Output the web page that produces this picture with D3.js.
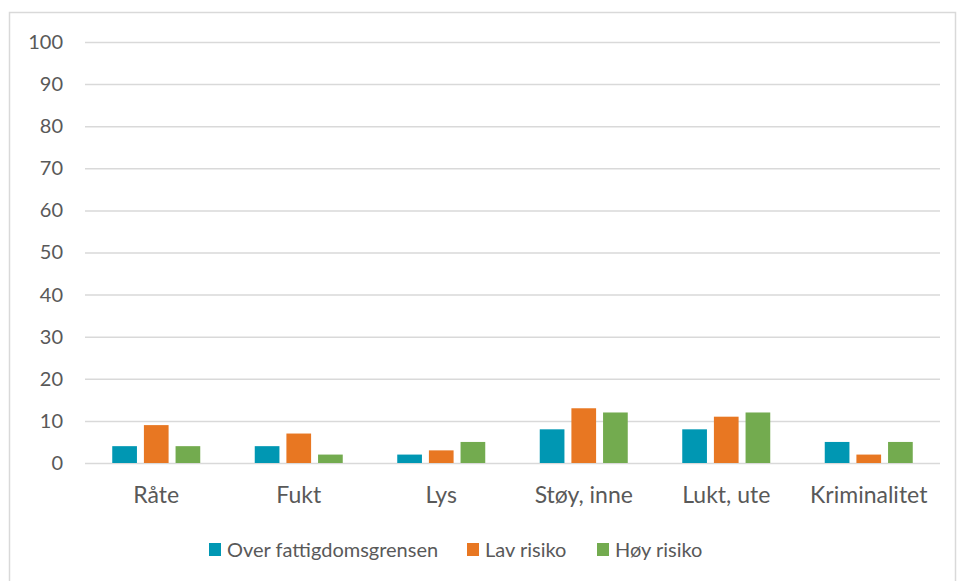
<!DOCTYPE html>
<html>
<head>
<meta charset="utf-8">
<script src="https://cdn.jsdelivr.net/npm/d3@7"></script>
<style>
  body { margin: 0; background: #fff; }
  #chart { width: 957px; height: 581px; }
  text { font-family: Lato, "Noto Sans", sans-serif; fill: #595959; }
</style>
</head>
<body>
<div id="chart"></div>
<script>
// data
const categories = ["Råte", "Fukt", "Lys", "Støy, inne", "Lukt, ute", "Kriminalitet"];
const seriesNames = ["Over fattigdomsgrensen", "Lav risiko", "Høy risiko"];
const overFattigdom = [4, 4, 2, 8, 8, 5];
const lavRisiko = [9, 7, 3, 13, 11, 2];
const hoyRisiko = [4, 2, 5, 12, 12, 5];
const colors = ["#0097b3", "#e87722", "#73ab4f"];
const yTicks = [0, 10, 20, 30, 40, 50, 60, 70, 80, 90, 100];

const seriesValues = [overFattigdom, lavRisiko, hoyRisiko];

let W = 957, H = 581;
let margin = {top: 42, right: 17, bottom: 118, left: 85};
let width = W - margin.left - margin.right;
let height = H - margin.top - margin.bottom;

let root = d3.select("#chart").append("svg")
    .attr("width", W)
    .attr("height", H);

// chart border
root.append("rect")
    .attr("x", 9.5).attr("y", 12.5)
    .attr("width", 946).attr("height", 580)
    .attr("fill", "none")
    .attr("stroke", "#d9d9d9")
    .attr("stroke-width", 1.5);

let svg = root.append("g")
    .attr("transform", "translate(" + margin.left + "," + margin.top + ")");

let y = d3.scaleLinear().domain([0, 100]).range([height, 0]);
let x0 = d3.scaleBand().domain(categories).range([0, width]).padding(0);
let x1 = d3.scaleBand().domain(seriesNames).range([-44, 44]).paddingInner(0.22);

// gridlines + y labels
let yAxis = d3.axisLeft(y).tickValues(yTicks).tickSize(-width).tickPadding(22);
svg.append("g")
    .attr("class", "y-axis")
    .call(yAxis)
    .call(g => g.select(".domain").remove())
    .call(g => g.selectAll(".tick line").attr("stroke", "#d9d9d9").attr("stroke-width", 1.5))
    .call(g => g.selectAll(".tick text").attr("font-size", 20).style("fill", "#595959")
        .attr("font-family", "Lato, 'Noto Sans', sans-serif"));

// bars
let groups = svg.selectAll(".cat").data(categories).enter().append("g")
    .attr("class", "cat")
    .attr("transform", d => "translate(" + (x0(d) + x0.bandwidth() / 2) + ",0)");

groups.selectAll("rect")
    .data((c, i) => seriesNames.map((s, j) => ({series: s, value: seriesValues[j][i], color: colors[j]})))
    .enter().append("rect")
    .attr("x", d => x1(d.series))
    .attr("width", x1.bandwidth())
    .attr("y", d => y(d.value))
    .attr("height", d => height - y(d.value))
    .attr("fill", d => d.color);

// category labels
let xAxis = d3.axisBottom(x0).tickSize(0).tickPadding(24);
svg.append("g")
    .attr("class", "x-axis")
    .attr("transform", "translate(0," + height + ")")
    .call(xAxis)
    .call(g => g.select(".domain").remove())
    .call(g => g.selectAll(".tick text").attr("font-size", 23).style("fill", "#595959")
        .attr("font-family", "Lato, 'Noto Sans', sans-serif"));

// legend
let legendX = [209, 467, 597];
let legend = root.selectAll(".legend").data(seriesNames).enter().append("g")
    .attr("class", "legend")
    .attr("transform", (d, i) => "translate(" + legendX[i] + ",543)");
legend.append("rect")
    .attr("width", 12).attr("height", 13)
    .attr("fill", (d, i) => colors[i]);
legend.append("text")
    .attr("x", 18).attr("y", 7)
    .attr("dy", "0.35em")
    .attr("font-size", 20)
    .text(d => d);
</script>
</body>
</html>
